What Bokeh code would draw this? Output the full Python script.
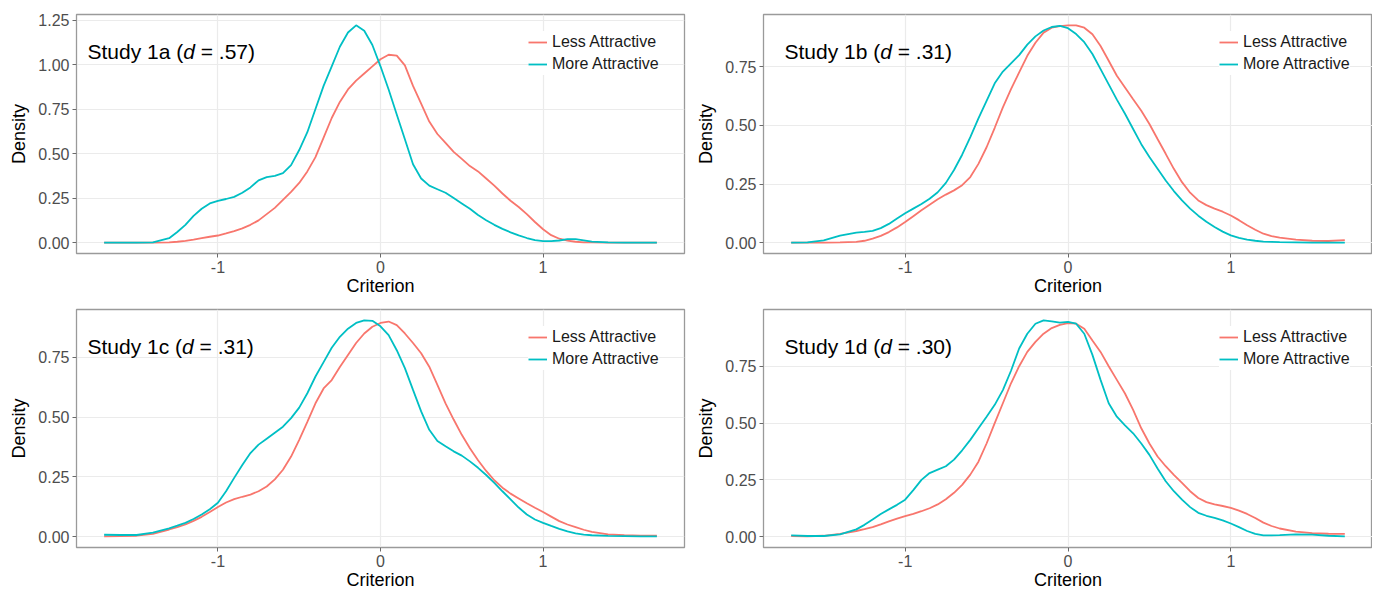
from bokeh.plotting import figure
from bokeh.layouts import column, row
from bokeh.models import Range1d, PrintfTickFormatter, Label, Legend, LegendItem
from bokeh.embed import file_html
from bokeh.resources import INLINE

# ---------------- data ----------------
criterion = [-1.7, -1.6, -1.5, -1.4,
             -1.3, -1.25, -1.2, -1.15, -1.1, -1.05, -1.0, -0.95, -0.9, -0.85, -0.8, -0.75, -0.7, -0.65,
             -0.6, -0.55, -0.5, -0.45, -0.4, -0.35, -0.3, -0.25, -0.2, -0.15, -0.1, -0.05,
             0.0,
             0.05, 0.1, 0.15, 0.2, 0.25, 0.3, 0.35, 0.4, 0.45, 0.5, 0.55, 0.6,
             0.65, 0.7, 0.75, 0.8, 0.85, 0.9, 0.95, 1.0, 1.05, 1.1, 1.15, 1.2, 1.25, 1.3,
             1.4, 1.5, 1.6, 1.7]

study_1a_less = [0, 0, 0, 0,
                 0.002, 0.005, 0.01, 0.017, 0.025, 0.033, 0.04, 0.052, 0.065, 0.08, 0.10, 0.125, 0.16, 0.195,
                 0.24, 0.285, 0.335, 0.40, 0.48, 0.59, 0.70, 0.79, 0.86, 0.91, 0.95, 0.99,
                 1.03,
                 1.055, 1.05, 0.995, 0.88, 0.78, 0.68, 0.61, 0.56, 0.51, 0.47, 0.43, 0.40,
                 0.36, 0.32, 0.276, 0.235, 0.20, 0.16, 0.116, 0.075, 0.042, 0.022, 0.011, 0.005, 0.002, 0.001,
                 0, 0, 0, 0]
study_1a_more = [0, 0, 0, 0.001,
                 0.025, 0.06, 0.10, 0.15, 0.19, 0.22, 0.235, 0.245, 0.257, 0.28, 0.31, 0.35, 0.368, 0.375,
                 0.39, 0.435, 0.52, 0.62, 0.75, 0.88, 0.99, 1.10, 1.18, 1.22, 1.19, 1.11,
                 0.99,
                 0.86, 0.72, 0.58, 0.44, 0.36, 0.32, 0.30, 0.28, 0.25, 0.22, 0.19, 0.155,
                 0.126, 0.10, 0.077, 0.058, 0.041, 0.026, 0.014, 0.008, 0.008, 0.012, 0.02, 0.02, 0.013, 0.006,
                 0.001, 0, 0, 0]

study_1b_less = [0, 0, 0, 0.001,
                 0.003, 0.008, 0.017, 0.029, 0.045, 0.065, 0.088, 0.113, 0.138, 0.162, 0.185, 0.205, 0.223, 0.245,
                 0.28, 0.336, 0.407, 0.49, 0.577, 0.655, 0.726, 0.797, 0.853, 0.896, 0.917, 0.924,
                 0.927,
                 0.927, 0.917, 0.889, 0.839, 0.776, 0.712, 0.662, 0.612, 0.563, 0.506, 0.442, 0.379,
                 0.315, 0.258, 0.213, 0.18, 0.16, 0.145, 0.132, 0.116, 0.096, 0.074, 0.055, 0.038, 0.028, 0.021,
                 0.013, 0.008, 0.007, 0.011]
study_1b_more = [0, 0.001, 0.01, 0.03,
                 0.043, 0.046, 0.05, 0.062, 0.08, 0.103, 0.125, 0.145, 0.165, 0.187, 0.215, 0.255, 0.31, 0.375,
                 0.45, 0.53, 0.605, 0.68, 0.73, 0.765, 0.80, 0.845, 0.88, 0.905, 0.92, 0.925,
                 0.915,
                 0.89, 0.855, 0.805, 0.74, 0.675, 0.61, 0.55, 0.485, 0.42, 0.365, 0.315, 0.265,
                 0.22, 0.18, 0.145, 0.115, 0.089, 0.067, 0.047, 0.031, 0.02, 0.013, 0.008, 0.004, 0.003, 0.002,
                 0.001, 0, 0, 0]

study_1c_less = [0.001, 0.002, 0.004, 0.012,
                 0.03, 0.04, 0.051, 0.066, 0.083, 0.103, 0.124, 0.143, 0.157, 0.167, 0.176, 0.19, 0.21, 0.24,
                 0.28, 0.335, 0.405, 0.48, 0.558, 0.62, 0.655, 0.71, 0.76, 0.81, 0.85, 0.878,
                 0.894,
                 0.90, 0.885, 0.85, 0.81, 0.767, 0.711, 0.635, 0.558, 0.49, 0.426, 0.37, 0.32,
                 0.275, 0.236, 0.205, 0.18, 0.16, 0.14, 0.121, 0.103, 0.084, 0.065, 0.051, 0.04, 0.029, 0.02,
                 0.01, 0.006, 0.004, 0.004]
study_1c_more = [0.008, 0.007, 0.007, 0.017,
                 0.035, 0.046, 0.058, 0.074, 0.093, 0.115, 0.142, 0.19, 0.246, 0.30, 0.35, 0.385, 0.41, 0.435,
                 0.46, 0.496, 0.54, 0.60, 0.67, 0.73, 0.79, 0.836, 0.87, 0.894, 0.905, 0.903,
                 0.88,
                 0.843, 0.78, 0.705, 0.614, 0.524, 0.447, 0.40, 0.378, 0.357, 0.339, 0.315, 0.288,
                 0.258, 0.225, 0.19, 0.156, 0.122, 0.093, 0.072, 0.058, 0.045, 0.033, 0.022, 0.014, 0.009, 0.006,
                 0.003, 0.002, 0.001, 0.001]

study_1d_less = [0.003, 0.002, 0.004, 0.012,
                 0.025, 0.033, 0.042, 0.054, 0.067, 0.079, 0.09, 0.10, 0.112, 0.125, 0.142, 0.165, 0.193, 0.228,
                 0.273, 0.33, 0.41, 0.50, 0.587, 0.675, 0.75, 0.813, 0.857, 0.893, 0.918, 0.932,
                 0.94,
                 0.937, 0.915, 0.863, 0.813, 0.75, 0.69, 0.63, 0.558, 0.477, 0.41, 0.353, 0.31,
                 0.272, 0.237, 0.2, 0.17, 0.152, 0.142, 0.135, 0.127, 0.115, 0.10, 0.082, 0.062, 0.047, 0.036,
                 0.022, 0.016, 0.013, 0.012]
study_1d_more = [0.006, 0.003, 0.003, 0.01,
                 0.032, 0.052, 0.076, 0.10, 0.12, 0.14, 0.163, 0.205, 0.25, 0.28, 0.295, 0.31, 0.339, 0.38,
                 0.426, 0.477, 0.528, 0.58, 0.645, 0.73, 0.828, 0.893, 0.937, 0.952, 0.947, 0.942,
                 0.945,
                 0.937, 0.893, 0.80, 0.69, 0.587, 0.528, 0.49, 0.455, 0.41, 0.36, 0.30, 0.244,
                 0.2, 0.163, 0.13, 0.105, 0.092, 0.083, 0.072, 0.058, 0.042, 0.025, 0.012, 0.006, 0.006, 0.007,
                 0.01, 0.009, 0.004, 0.001]

studies = ["1a", "1b", "1c", "1d"]
effect_sizes = [".57", ".31", ".31", ".30"]
series_names = ["Less Attractive", "More Attractive"]
y_ticks_1a = [0, 0.25, 0.5, 0.75, 1.0, 1.25]
y_ticks_other = [0, 0.25, 0.5, 0.75]
x_ticks = [-1, 0, 1]
x_tick_labels = {-1: "-1", 0: "0", 1: "1"}

less_data = [study_1a_less, study_1b_less, study_1c_less, study_1d_less]
more_data = [study_1a_more, study_1b_more, study_1c_more, study_1d_more]
for arr in less_data + more_data:
    assert len(arr) == len(criterion)

# ---------------- style ----------------
FONT = "Liberation Sans"
RED = "#F8766D"
TEAL = "#00BFC4"
ARIAL_W = {'S': 667, 't': 278, 'u': 556, 'd': 556, 'y': 500, ' ': 278, 'a': 556, 'b': 556,
           'c': 500, '(': 333, ')': 333, '=': 584, '.': 278}
for ch in "0123456789":
    ARIAL_W[ch] = 556


def text_w(s, size):
    return sum(ARIAL_W.get(c, 556) for c in s) / 1000.0 * size


def make_panel(i, width, height, mb_left, mb_right, mb_top, mb_bottom, label_dx, leg_dx):
    less, more = less_data[i], more_data[i]
    ymax = max(max(less), max(more))
    p = figure(width=width, height=height, output_backend="svg", toolbar_location=None,
               x_range=Range1d(-1.87, 1.87), y_range=Range1d(-0.05 * ymax, 1.05 * ymax),
               min_border_left=mb_left, min_border_right=mb_right,
               min_border_top=mb_top, min_border_bottom=mb_bottom)
    p.background_fill_color = "white"
    p.border_fill_color = "white"
    p.outline_line_color = "#9a9a9a"
    p.outline_line_width = 1.3

    p.xaxis.ticker = x_ticks
    p.xaxis.major_label_overrides = x_tick_labels
    p.yaxis.ticker = y_ticks_1a if i == 0 else y_ticks_other
    p.yaxis.formatter = PrintfTickFormatter(format="%.2f")
    for ax in (p.xaxis, p.yaxis):
        ax.axis_line_color = None
        ax.major_tick_line_color = "#6a6a6a"
        ax.major_tick_line_width = 1
        ax.major_tick_in = 0
        ax.major_tick_out = 4
        ax.minor_tick_line_color = None
        ax.major_label_text_font = FONT
        ax.major_label_text_font_size = "16px"
        ax.major_label_text_color = "#4D4D4D"
        ax.major_label_standoff = 3
        ax.axis_label_text_font = FONT
        ax.axis_label_text_font_size = "18px"
        ax.axis_label_text_font_style = "normal"
        ax.axis_label_text_color = "black"
    p.xaxis.axis_label = "Criterion"
    p.yaxis.axis_label = "Density"
    p.xaxis.axis_label_standoff = 0
    p.yaxis.axis_label_standoff = 6

    p.grid.grid_line_color = "#EBEBEB"
    p.grid.grid_line_width = 1.2

    r_less = p.line(criterion, less, line_color=RED, line_width=1.8)
    r_more = p.line(criterion, more, line_color=TEAL, line_width=1.8)

    frame_h = height - mb_top - mb_bottom
    legend = Legend(items=[LegendItem(label=series_names[0], renderers=[r_less]),
                           LegendItem(label=series_names[1], renderers=[r_more])],
                    location=(leg_dx, frame_h - 61), margin=0, padding=10, spacing=0,
                    glyph_width=19, glyph_height=22, label_height=22, label_standoff=5,
                    background_fill_color="white", background_fill_alpha=1.0,
                    border_line_color=None, label_text_font=FONT,
                    label_text_font_size="16px", label_text_color="#1a1a1a")
    p.add_layout(legend)

    # panel label "Study 1x (d = .xx)" with italic d
    base_y = frame_h - 37
    size = 21
    part1 = "Study %s (" % studies[i]
    part3 = "= %s)" % effect_sizes[i]
    x1 = label_dx
    x2 = x1 + text_w(part1, size)
    x3 = x2 + text_w("d ", size)
    for txt, xx, style in ((part1, x1, "normal"), ("d", x2, "italic"), (part3, x3, "normal")):
        p.add_layout(Label(x=xx, y=base_y, x_units="screen", y_units="screen", text=txt,
                           text_font=FONT, text_font_size="%dpx" % size,
                           text_font_style=style, text_color="black",
                           text_baseline="alphabetic", text_align="left"))
    return p


p1 = make_panel(0, 690, 298, 76, 6, 14, 45, 11, 452)
p2 = make_panel(1, 682, 298, 73, 0, 14, 45, 21, 456)
p3 = make_panel(2, 690, 294, 76, 6, 11, 45, 11, 452)
p4 = make_panel(3, 682, 294, 73, 0, 11, 45, 21, 456)

layout = column(row(p1, p2), row(p3, p4))
open("out.html", "w").write(file_html(layout, INLINE))
